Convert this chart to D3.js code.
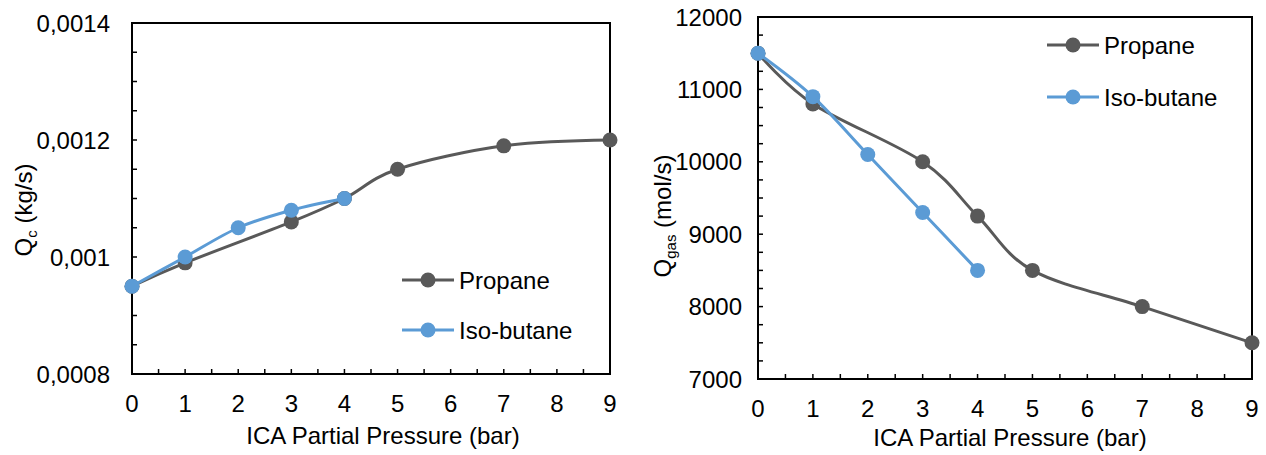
<!DOCTYPE html>
<html><head><meta charset="utf-8">
<script src="https://cdn.jsdelivr.net/npm/d3@7/dist/d3.min.js"></script>
<style>body{margin:0;background:#fff}svg{display:block}text{font-family:"Liberation Sans",Arial,sans-serif;fill:#000}</style>
</head><body><svg id="c" width="1266" height="455"></svg>
<script>
const xTicks = [0,1,2,3,4,5,6,7,8,9];
const propaneX = [0,1,3,4,5,7,9];
const isoX = [0,1,2,3,4];
const leftPropane = [0.00095,0.00099,0.00106,0.0011,0.00115,0.00119,0.0012];
const leftIso = [0.00095,0.001,0.00105,0.00108,0.0011];
const leftYTicks = [0.0008,0.001,0.0012,0.0014];
const leftYLabels = ["0,0008","0,001","0,0012","0,0014"];
const rightPropane = [11500,10800,10000,9250,8500,8000,7500];
const rightIso = [11500,10900,10100,9300,8500];
const rightYTicks = [7000,8000,9000,10000,11000,12000];
const rightYLabels = ["7000","8000","9000","10000","11000","12000"];
const seriesNames = ["Propane","Iso-butane"];
const colors = ["#595959","#5B9BD5"];
const xTitle = "ICA Partial Pressure (bar)";

const svg = d3.select("#c");
const FS = 24;

function panel(cfg){
  const g = svg.append("g");
  const x = d3.scaleLinear().domain([0,9]).range([cfg.l,cfg.r]);
  const y = d3.scaleLinear().domain(cfg.ydom).range([cfg.b,cfg.t]);
  const xm = d3.range(0,9.01,0.5);
  const ym = d3.range(cfg.ydom[0], cfg.ydom[1]+cfg.ystep/2, cfg.ystep);
  g.selectAll(".xm").data(xm).join("line").attr("x1",d=>x(d)).attr("x2",d=>x(d))
    .attr("y1",cfg.b).attr("y2",cfg.b-5).attr("stroke","#000").attr("stroke-width",1.5);
  g.selectAll(".ym").data(ym).join("line").attr("y1",d=>y(d)).attr("y2",d=>y(d))
    .attr("x1",cfg.l).attr("x2",cfg.l+5).attr("stroke","#000").attr("stroke-width",1.5);
  g.append("rect").attr("x",cfg.l).attr("y",cfg.t).attr("width",cfg.r-cfg.l).attr("height",cfg.b-cfg.t)
    .attr("fill","none").attr("stroke","#000").attr("stroke-width",2);
  g.selectAll(".xl").data(xTicks).join("text").attr("x",d=>x(d)).attr("y",cfg.b+38)
    .attr("text-anchor","middle").attr("font-size",FS).text(d=>d);
  g.selectAll(".yl").data(cfg.yt).join("text").attr("x",cfg.l-cfg.ylOff).attr("y",d=>y(d)+8.5)
    .attr("text-anchor","end").attr("font-size",FS).text((d,i)=>cfg.ylab[i]);
  g.append("text").attr("x",cfg.xtx).attr("y",cfg.xty).attr("text-anchor","middle").attr("font-size",FS).text(xTitle);
  const yt = g.append("text").attr("transform",`translate(${cfg.ytx},${cfg.yty}) rotate(-90)`).attr("text-anchor","middle").attr("font-size",FS);
  yt.append("tspan").text("Q");
  yt.append("tspan").attr("font-size",15).attr("dy",5).text(cfg.sub);
  yt.append("tspan").attr("dy",-5).text(" "+cfg.unit);
  const line = d3.line().x(d=>x(d[0])).y(d=>y(d[1])).curve(d3.curveCardinal.tension(0));
  const series = [d3.zip(propaneX,cfg.p), d3.zip(isoX,cfg.iso)];
  series.forEach((s,i)=>{
    g.append("path").datum(s).attr("d",line).attr("fill","none").attr("stroke",colors[i]).attr("stroke-width",3);
    g.selectAll(".m"+i).data(s).join("circle").attr("cx",d=>x(d[0])).attr("cy",d=>y(d[1])).attr("r",7.5).attr("fill",colors[i]);
  });
  seriesNames.forEach((n,i)=>{
    const ly = cfg.legY + i*cfg.legDy;
    g.append("line").attr("x1",cfg.legX).attr("x2",cfg.legX+52).attr("y1",ly).attr("y2",ly).attr("stroke",colors[i]).attr("stroke-width",3);
    g.append("circle").attr("cx",cfg.legX+26).attr("cy",ly).attr("r",7.5).attr("fill",colors[i]);
    g.append("text").attr("x",cfg.legX+57).attr("y",ly+8.5).attr("font-size",FS).text(n);
  });
}

panel({l:132,r:610,t:23,b:374,ydom:[0.0008,0.0014],ystep:0.00005,yt:leftYTicks,ylab:leftYLabels,ylOff:22,
  xtx:383,xty:444,ytx:32,yty:210,sub:"c",unit:"(kg/s)",p:leftPropane,iso:leftIso,legX:402,legY:280,legDy:50});
panel({l:758,r:1252,t:17,b:379,ydom:[7000,12000],ystep:250,yt:rightYTicks,ylab:rightYLabels,ylOff:16,
  xtx:1010,xty:446,ytx:671,yty:216,sub:"gas",unit:"(mol/s)",p:rightPropane,iso:rightIso,legX:1047,legY:45,legDy:52});
</script></body></html>
